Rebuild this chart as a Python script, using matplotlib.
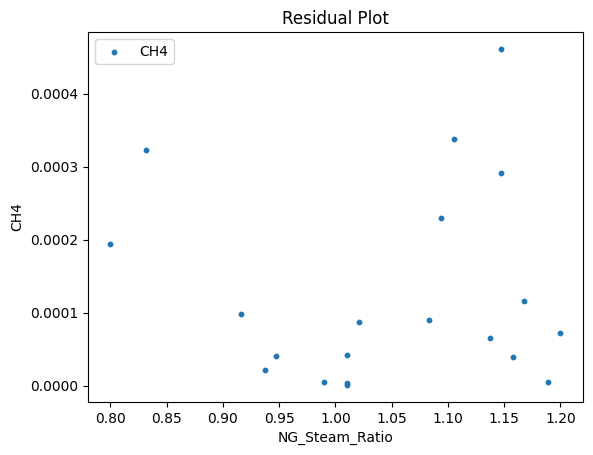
import numpy as np
import matplotlib
matplotlib.use('Agg')
import matplotlib.pyplot as plt

# NG_Steam_Ratio values and residuals of CH4
ng_steam_ratio = [0.800, 0.832, 0.916, 0.937, 0.947, 0.990, 1.010, 1.010, 1.010, 1.021,
                  1.0835, 1.094, 1.105, 1.137, 1.147, 1.147, 1.158, 1.1675, 1.189, 1.200]
ch4_residual = [0.0001937, 0.0003226, 0.0000977, 0.0000209, 0.0000401, 0.0000048,
                0.0000414, 0.0000030, 0.0000005, 0.0000867, 0.0000894, 0.0002294,
                0.0003377, 0.0000647, 0.0004612, 0.0002911, 0.0000387, 0.0001155,
                0.0000044, 0.0000716]

fig = plt.figure(figsize=(5.93, 4.55), dpi=100)
ax = fig.add_axes([88/593, 1 - 402/455, (583 - 88)/593, (402 - 32)/455])

ax.scatter(ng_steam_ratio, ch4_residual, s=10, label='CH4')
ax.set_xlabel('NG_Steam_Ratio')
ax.set_ylabel('CH4')
ax.set_title('Residual Plot')
ax.legend(loc='upper left')

fig.savefig('out.png', dpi=100)
